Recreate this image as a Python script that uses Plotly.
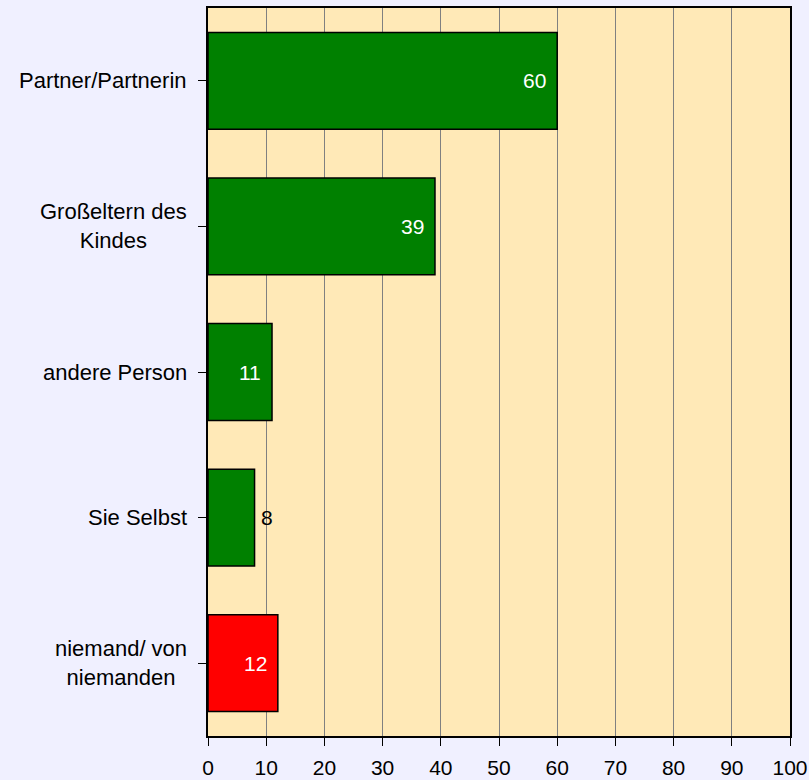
import plotly.graph_objects as go

categories = ["Partner/Partnerin", "Großeltern des<br>Kindes", "andere Person", "Sie Selbst", "niemand/ von<br>niemanden"]
values = [60, 39, 11, 8, 12]
bar_colors = ["#008000", "#008000", "#008000", "#008000", "#FF0000"]
label_inside = [True, True, True, False, True]
x_ticks = [0, 10, 20, 30, 40, 50, 60, 70, 80, 90, 100]

font_family = "Liberation Sans, Arial, sans-serif"
page_bg = "#F0F0FF"

fig = go.Figure()
fig.add_trace(go.Bar(
    y=list(range(len(categories))),
    x=values,
    orientation="h",
    marker=dict(color=bar_colors, line=dict(color="black", width=1.5)),
    width=0.665,
    hoverinfo="skip",
))

annotations = []
for i, (c, v, ins) in enumerate(zip(categories, values, label_inside)):
    annotations.append(dict(
        x=v, y=i, xref="x", yref="y", text=str(v), showarrow=False,
        xanchor="right" if ins else "left", xshift=-9 if ins else 4,
        font=dict(family=font_family, size=21, color="white" if ins else "black"),
    ))
    annotations.append(dict(
        x=0, y=i, xref="paper", yref="y", text=c, showarrow=False,
        xanchor="right", xshift=-19, align="center",
        font=dict(family=font_family, size=22, color="black"),
    ))

fig.update_layout(
    width=809, height=780, autosize=False,
    margin=dict(l=208, r=19, t=8, b=44, pad=0, autoexpand=False),
    paper_bgcolor=page_bg,
    plot_bgcolor="#FFE9B7",
    showlegend=False,
    annotations=annotations,
    xaxis=dict(
        range=[0, 100], tickvals=x_ticks, ticktext=[str(t) for t in x_ticks],
        showgrid=True, gridcolor="#808080", gridwidth=1,
        showline=True, linecolor="black", linewidth=2, mirror=True,
        ticks="outside", ticklen=8, tickcolor="black", ticklabelstandoff=4,
        tickfont=dict(family=font_family, size=21, color="black"),
        zeroline=False, fixedrange=True, automargin=False,
    ),
    yaxis=dict(
        range=[4.5, -0.5], tickvals=list(range(len(categories))),
        ticktext=[""] * len(categories),
        tickson="boundaries", ticks="outside", ticklen=8, tickcolor="black",
        showgrid=False, showline=True, linecolor="black", linewidth=2, mirror=True,
        zeroline=False, fixedrange=True, automargin=False,
    ),
)

post = (
    "document.body.style.margin='0';"
    "document.body.style.overflow='hidden';"
    "document.body.style.background='" + page_bg + "';"
)
fig.write_html("out.html", post_script=post, config={"displayModeBar": False})
